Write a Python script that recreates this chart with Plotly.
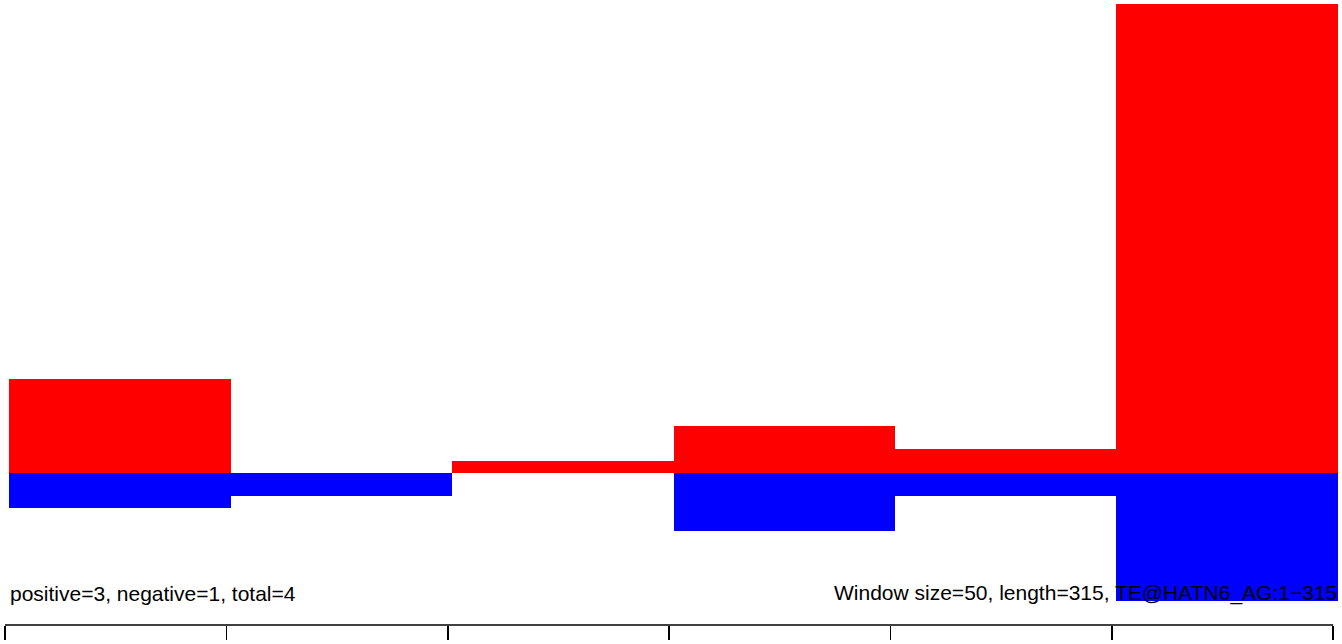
import plotly.graph_objects as go

# Data
window_starts = [1, 51, 101, 151, 201, 251]
window_size = 50
positive = [8, 0, 1, 4, 2, 40]
negative = [-3, -2, 0, -5, -2, -11]
tick_values = [0, 50, 100, 150, 200, 250, 300]
left_label = "positive=3, negative=1, total=4"
right_label = "Window size=50, length=315, TE@HATN6_AG:1\u2212315"

centers = [s + window_size / 2 for s in window_starts]
widths = [window_size] * len(window_starts)

fig = go.Figure()
fig.add_trace(go.Bar(x=centers, y=positive, width=widths, base=0,
                     marker=dict(color="#FF0000", line=dict(width=0)),
                     hoverinfo="skip"))
fig.add_trace(go.Bar(x=centers, y=negative, width=widths, base=0,
                     marker=dict(color="#0000FF", line=dict(width=0)),
                     hoverinfo="skip"))

font = dict(family="Liberation Sans, Arial, Helvetica, sans-serif", size=21, color="#000000")
fig.add_annotation(x=window_starts[0], y=-10.3, xref="x", yref="y", text=left_label,
                   showarrow=False, xanchor="left", yanchor="middle", font=font,
                   borderpad=0)
fig.add_annotation(x=window_starts[-1] + window_size, y=-10.3, xref="x", yref="y",
                   text=right_label, showarrow=False, xanchor="right", yanchor="middle",
                   font=font, borderpad=0)

# axis line from first to last tick
fig.add_shape(type="line", x0=tick_values[0], x1=tick_values[-1], y0=0, y1=0,
              xref="x", yref="paper", line=dict(color="#000000", width=1.6))

fig.update_layout(
    width=1342, height=644,
    margin=dict(l=0, r=0, t=0, b=19, pad=0),
    paper_bgcolor="white", plot_bgcolor="white",
    barmode="overlay", bargap=0, showlegend=False,
    xaxis=dict(range=[-1.129, 302.0], showgrid=False, zeroline=False, showline=False,
               tickmode="array", tickvals=tick_values, ticks="outside", ticklen=14,
               tickwidth=1.6, tickcolor="#000000", showticklabels=False, fixedrange=True),
    yaxis=dict(range=[-13.01, 40.32], showgrid=False, zeroline=False, showline=False,
               showticklabels=False, ticks="", fixedrange=True),
)

fig.write_html("out.html",
               config={"displayModeBar": False, "staticPlot": True},
               post_script="document.body.style.margin='0';document.body.style.padding='0';"
                           "document.body.style.overflow='hidden';")
